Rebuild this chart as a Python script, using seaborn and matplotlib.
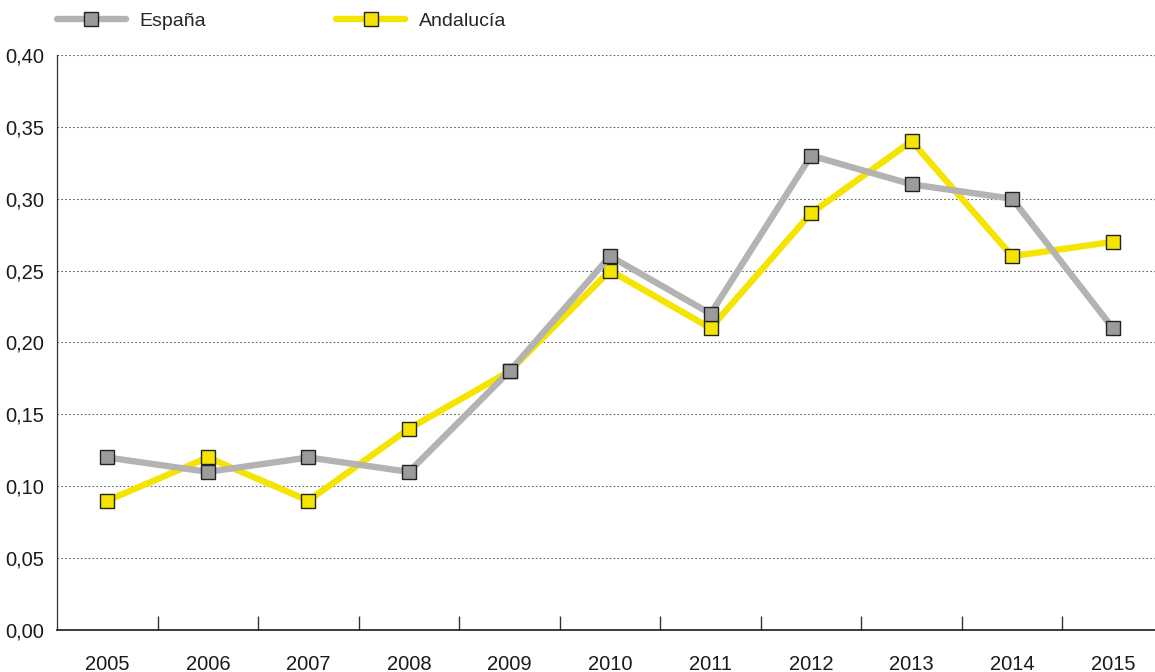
import numpy as np
import pandas as pd
import matplotlib
matplotlib.use('Agg')
import matplotlib.pyplot as plt
import seaborn as sns
from matplotlib.ticker import FixedLocator, MultipleLocator, FuncFormatter

years = ['2005', '2006', '2007', '2008', '2009', '2010', '2011', '2012', '2013', '2014', '2015']
espana = [0.12, 0.11, 0.12, 0.11, 0.18, 0.26, 0.22, 0.33, 0.31, 0.30, 0.21]
andalucia = [0.09, 0.12, 0.09, 0.14, 0.18, 0.25, 0.21, 0.29, 0.34, 0.26, 0.27]

sns.set_style('white')
plt.rcParams['font.family'] = ['Liberation Sans', 'DejaVu Sans']

df = pd.DataFrame({'pos': np.arange(len(years)), 'España': espana, 'Andalucía': andalucia})

fig = plt.figure(figsize=(11.55, 6.72), dpi=100)
ax = fig.add_axes([0.0494, 0.0625, 0.9506, 0.8557])

# Andalucía primero, España encima
sns.lineplot(data=df, x='pos', y='Andalucía', ax=ax, color='#f5e400', linewidth=4.6,
             marker='s', markersize=9.5, markerfacecolor='#f5e400',
             markeredgecolor='#222222', markeredgewidth=1.0, label='Andalucía', zorder=3)
sns.lineplot(data=df, x='pos', y='España', ax=ax, color='#b3b3b3', linewidth=4.6,
             marker='s', markersize=9.5, markerfacecolor='#9b9b9b',
             markeredgecolor='#222222', markeredgewidth=1.0, label='España', zorder=4)

ax.set_xlim(-0.5, 10.42)
ax.set_ylim(0, 0.40)
ax.yaxis.set_major_locator(MultipleLocator(0.05))
ax.yaxis.set_major_formatter(FuncFormatter(lambda v, p: f'{v:.2f}'.replace('.', ',')))
ax.set_xticks(np.arange(len(years)))
ax.set_xticklabels(years)
ax.xaxis.set_minor_locator(FixedLocator(np.arange(0.5, 10, 1)))
ax.tick_params(axis='x', which='both', bottom=True)
ax.tick_params(axis='x', which='major', length=0, pad=18, labelsize=14.5, colors='#1a1a1a')
ax.tick_params(axis='x', which='minor', direction='in', length=10, width=1, color='#333333')
ax.tick_params(axis='y', length=0, pad=9, labelsize=14.5, colors='#1a1a1a')
ax.set_xlabel('')
ax.set_ylabel('')

for v in np.arange(0.05, 0.41, 0.05):
    ax.axhline(v, color='#666666', linestyle=(0, (1.5, 2)), linewidth=0.8, zorder=1)

for s in ['top', 'right']:
    ax.spines[s].set_visible(False)
ax.spines['left'].set_color('#333333')
ax.spines['bottom'].set_color('#1a1a1a')
ax.spines['left'].set_linewidth(0.9)
ax.spines['bottom'].set_linewidth(1.2)

handles, labels = ax.get_legend_handles_labels()
ax.get_legend().remove()
order = [labels.index('España'), labels.index('Andalucía')]
fig.legend([handles[i] for i in order], [labels[i] for i in order],
           loc='upper left', bbox_to_anchor=(0.0417, 0.995), ncol=2, frameon=False,
           fontsize=14, handlelength=3.55, handletextpad=0.7, columnspacing=6.7,
           borderaxespad=0.15, borderpad=0.3)

fig.savefig('out.png', dpi=100)
